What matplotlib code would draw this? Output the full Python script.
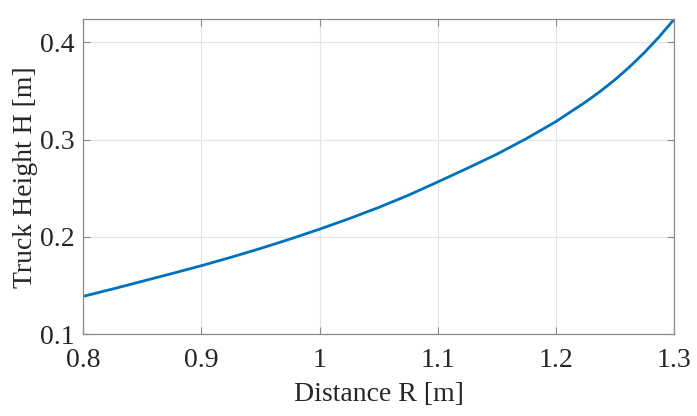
import matplotlib
matplotlib.use("Agg")
import matplotlib.pyplot as plt

# distance R [m] and truck height H [m]
distance_r = [0.800, 0.825, 0.850, 0.875, 0.900, 0.925, 0.950, 0.975, 1.000,
              1.025, 1.050, 1.075, 1.100, 1.125, 1.150, 1.175, 1.200, 1.225,
              1.2375, 1.250, 1.2625, 1.275, 1.2875, 1.300]
truck_h = [0.1390, 0.1466, 0.1545, 0.1624, 0.1705, 0.1791, 0.1882, 0.1978,
           0.2080, 0.2188, 0.2303, 0.2428, 0.2565, 0.2705, 0.2850, 0.3010,
           0.3185, 0.3385, 0.3495, 0.3615, 0.3748, 0.3895, 0.4057, 0.4235]

x_ticks = [0.8, 0.9, 1.0, 1.1, 1.2, 1.3]
x_tick_labels = ["0.8", "0.9", "1", "1.1", "1.2", "1.3"]
y_ticks = [0.1, 0.2, 0.3, 0.4]
y_tick_labels = ["0.1", "0.2", "0.3", "0.4"]

plt.rcParams["font.family"] = ["Liberation Serif", "DejaVu Serif"]
plt.rcParams["font.size"] = 20

fig = plt.figure(figsize=(6.97, 4.16), dpi=100)
ax = fig.add_axes([0.1195, 0.1964, 0.8475, 0.7572])

ax.plot(distance_r, truck_h, color="#0072BD", linewidth=2.0)

ax.set_xlim(0.8, 1.3)
ax.set_ylim(0.1, 0.4236)
ax.set_xticks(x_ticks)
ax.set_xticklabels(x_tick_labels)
ax.set_yticks(y_ticks)
ax.set_yticklabels(y_tick_labels)

ax.grid(True, color="#e3e3e3", linewidth=0.8)
ax.set_axisbelow(True)
for side in ax.spines.values():
    side.set_color("#8a8a8a")
    side.set_linewidth(0.9)
ax.tick_params(direction="in", length=5, width=0.8, color="#8a8a8a",
               labelcolor="#262626", top=True, right=True)
ax.tick_params(axis="x", pad=10)
ax.tick_params(axis="y", pad=6.5)

ax.set_xlabel("Distance R [m]", color="#262626", labelpad=6)
ax.set_ylabel("Truck Height H [m]", color="#262626", labelpad=1)

fig.savefig("out.png", dpi=100)
